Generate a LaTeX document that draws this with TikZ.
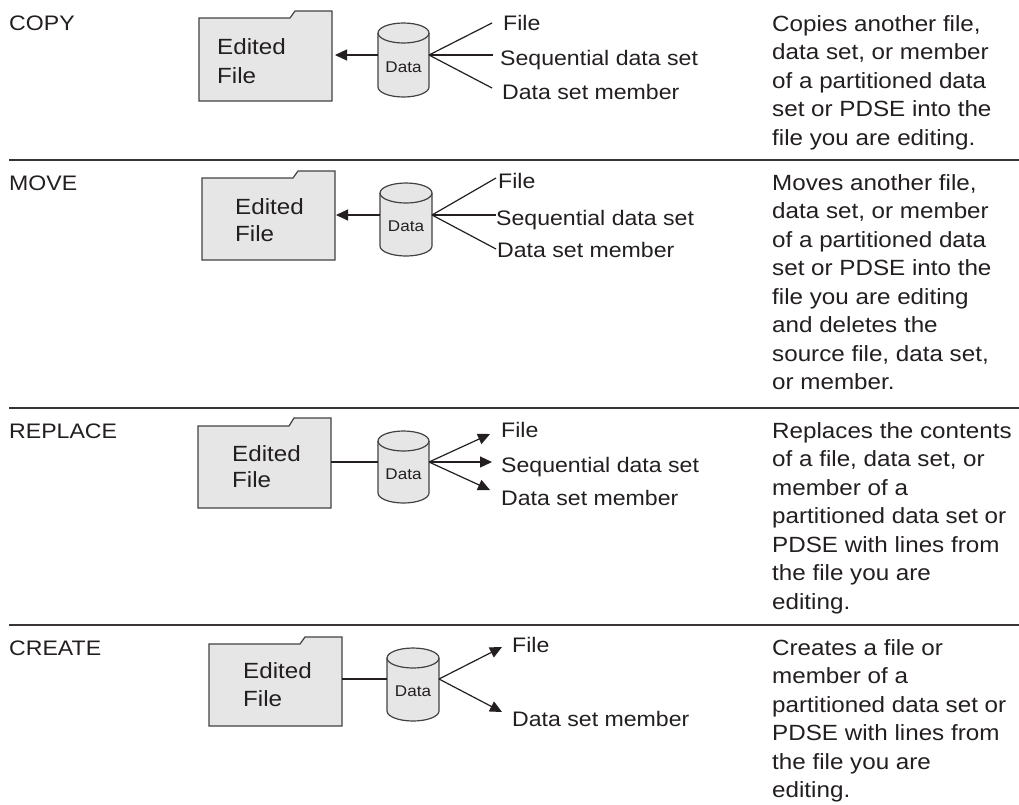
\documentclass[tikz,border=0pt]{standalone}
\usepackage{fontspec}
\setmainfont{Liberation Sans}[FakeStretch=1.1]
\usetikzlibrary{arrows.meta}
\definecolor{ink}{HTML}{231F20}
\definecolor{boxgray}{HTML}{E6E6E7}
\tikzset{
  ln/.style={draw=ink, line width=1.2pt},
  arr/.style={ln, -{Triangle[length=12pt,width=11pt]}},
  folderline/.style={draw=ink!85, line width=1.2pt, fill=boxgray, line join=miter},
  cylline/.style={draw=ink!85, line width=1.2pt, fill=boxgray},
  hidden/.style={draw=none, fill=none, inner sep=0pt, outer sep=0pt},
  sep/.style={draw=ink!90, line width=1.6pt},
  rowlabel/.style={anchor=base west, inner sep=0pt, font=\fontsize{21}{25}\selectfont, text=ink},
  % multi-line nodes: anchor at the baseline of the LAST line
  desc/.style={anchor=base west, inner sep=0pt, align=left, font=\fontsize{22}{28.5}\selectfont, text=ink},
  edtext/.style={anchor=base west, inner sep=0pt, align=left, font=\fontsize{22}{#1}\selectfont, text=ink},
  tgt/.style={anchor=base west, inner sep=0pt, font=\fontsize{21}{25}\selectfont, text=ink},
  datatext/.style={anchor=base, inner sep=0pt, font=\fontsize{15.5}{18}\selectfont, text=ink},
}
% name, L, R, tab top, body top, bottom
\newcommand\myfolder[6]{%
  \node[hidden, minimum width={#3-#2}, minimum height={#6-#5}] (#1) at ({(#2+#3)/2},{(#5+#6)/2}) {};
  \draw[folderline] (#1.north west) -- ({#3-42},#5) -- ({#3-37},#4) -- (#3,#4) -- (#1.south east) -- (#1.south west) -- cycle;
}
% name, L, R, top, bottom, connect y
\newcommand\mycyl[6]{%
  \pgfmathsetmacro\myrx{(#3-#2)/2}%
  \pgfmathsetmacro\mycx{(#2+#3)/2}%
  \pgfmathsetmacro\mymid{(#4+#5)/2}%
  \draw[cylline] (#2,{#4+10}) -- (#2,{#5-10}) arc[start angle=180,end angle=360,x radius=\myrx pt,y radius=10pt] -- (#3,{#4+10}) arc[start angle=0,end angle=180,x radius=\myrx pt,y radius=10pt] -- cycle;
  \draw[cylline, fill=none] (#2,{#4+10}) arc[start angle=180,end angle=360,x radius=\myrx pt,y radius=10pt];
  \node[datatext] (#1) at (\mycx,{\mymid+12}) {Data};
  \coordinate (#1w) at (#2,#6);
  \coordinate (#1e) at (#3,#6);
}
\begin{document}
\begin{tikzpicture}[x=1pt,y=-1pt]
\useasboundingbox (0,0) rectangle (1019,804);
\fill[white] (0,0) rectangle (1019,804);

% separators
\coordinate (s1a) at (9,160);   \coordinate (s1b) at (1019,160);
\coordinate (s2a) at (9,408);   \coordinate (s2b) at (1019,408);
\coordinate (s3a) at (9,625);   \coordinate (s3b) at (1019,625);
\draw[sep] (s1a) -- (s1b);
\draw[sep] (s2a) -- (s2b);
\draw[sep] (s3a) -- (s3b);

% row labels
\node[rowlabel] (lcopy) at (9,30) {COPY};
\node[rowlabel] (lmove) at (9,190) {MOVE};
\node[rowlabel] (lrepl) at (9,438) {REPLACE};
\node[rowlabel] (lcreate) at (9,655) {CREATE};

% descriptions (positioned at last-line baseline)
\node[desc] (dcopy) at (772,145) {Copies another file,\\data set, or member\\of a partitioned data\\set or PDSE into the\\file you are editing.};
\node[desc] (dmove) at (772,389.5) {Moves another file,\\data set, or member\\of a partitioned data\\set or PDSE into the\\file you are editing\\and deletes the\\source file, data set,\\or member.};
\node[desc] (drepl) at (772,609) {Replaces the contents\\of a file, data set, or\\member of a\\partitioned data set or\\PDSE with lines from\\the file you are\\editing.};
\node[desc] (dcreate) at (772,797.5) {Creates a file or\\member of a\\partitioned data set or\\PDSE with lines from\\the file you are\\editing.};

% ---------- COPY ----------
\myfolder{f1}{199}{332}{11}{18}{101}
\node[edtext=28.5] (e1) at (217,83) {Edited\\File};
\mycyl{c1}{378}{429}{23}{97}{55}
\node[tgt] (t1a) at (503,30) {File};
\node[tgt] (t1b) at (500,65) {Sequential data set};
\node[tgt] (t1c) at (502,99) {Data set member};
\coordinate (p1a) at (492,23);
\coordinate (p1b) at (493,55);
\coordinate (p1c) at (492,88);
\draw[arr] (c1w) -- ([xshift=3pt]f1.east |- c1w);
\draw[ln] (c1e) -- (p1a);
\draw[ln] (c1e) -- (p1b);
\draw[ln] (c1e) -- (p1c);

% ---------- MOVE ----------
\myfolder{f2}{202}{335}{171}{178}{260}
\node[edtext=27] (e2) at (235,241) {Edited\\File};
\mycyl{c2}{380}{432}{183}{256}{215}
\node[tgt] (t2a) at (498,188) {File};
\node[tgt] (t2b) at (496,225) {Sequential data set};
\node[tgt] (t2c) at (497,257) {Data set member};
\coordinate (p2a) at (496,178);
\coordinate (p2b) at (496,215);
\coordinate (p2c) at (496,249);
\draw[arr] (c2w) -- ([xshift=1pt]f2.east |- c2w);
\draw[ln] (c2e) -- (p2a);
\draw[ln] (c2e) -- (p2b);
\draw[ln] (c2e) -- (p2c);

% ---------- REPLACE ----------
\myfolder{f3}{198}{331}{418}{426}{508}
\node[edtext=25.5] (e3) at (232,487) {Edited\\File};
\mycyl{c3}{378}{429}{431}{503}{462}
\node[tgt] (t3a) at (501,437) {File};
\node[tgt] (t3b) at (501,472) {Sequential data set};
\node[tgt] (t3c) at (501,505) {Data set member};
\coordinate (p3a) at (490,434);
\coordinate (p3b) at (492,462);
\coordinate (p3c) at (490,490);
\draw[ln] (f3.east |- c3w) -- (c3w);
\draw[arr] (c3e) -- (p3a);
\draw[arr] (c3e) -- (p3b);
\draw[arr] (c3e) -- (p3c);

% ---------- CREATE ----------
\myfolder{f4}{209}{342}{637}{644}{726}
\node[edtext=28] (e4) at (243,706) {Edited\\File};
\mycyl{c4}{387}{439}{648}{721}{679}
\node[tgt] (t4a) at (512,652) {File};
\node[tgt] (t4c) at (512,726) {Data set member};
\coordinate (p4a) at (502,647);
\coordinate (p4c) at (502,712);
\draw[ln] (f4.east |- c4w) -- (c4w);
\draw[arr] (c4e) -- (p4a);
\draw[arr] (c4e) -- (p4c);
\end{tikzpicture}
\end{document}
